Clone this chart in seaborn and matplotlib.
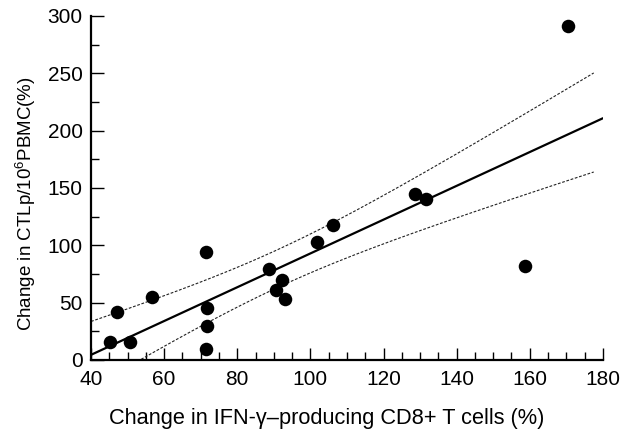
import numpy as np
import pandas as pd
import matplotlib
matplotlib.use("Agg")
import matplotlib.pyplot as plt
import seaborn as sns
from matplotlib.ticker import MultipleLocator

# Data
ifn_change = [45.2, 47.2, 50.7, 56.6, 71.5, 71.5, 71.7, 71.8, 88.8, 90.7,
              92.2, 93.1, 101.8, 106.2, 128.6, 131.6, 158.8, 170.5]
ctlp_change = [15.7, 41.6, 15.7, 55.2, 94.0, 9.6, 45.1, 30.0, 79.1, 61.3,
               70.1, 53.0, 102.8, 117.8, 144.6, 140.5, 82.0, 291.4]
x_ticks = [40, 60, 80, 100, 120, 140, 160, 180]
y_ticks = [0, 50, 100, 150, 200, 250, 300]

df = pd.DataFrame({"x": ifn_change, "y": ctlp_change})

sns.set_style("ticks")
plt.rcParams["font.family"] = ["Liberation Sans", "DejaVu Sans"]
plt.rcParams["mathtext.fontset"] = "custom"
plt.rcParams["mathtext.rm"] = "Liberation Sans"
plt.rcParams["mathtext.it"] = "Liberation Sans:italic"
plt.rcParams["text.color"] = "black"
plt.rcParams["axes.labelcolor"] = "black"
plt.rcParams["xtick.color"] = "black"
plt.rcParams["ytick.color"] = "black"

fig = plt.figure(figsize=(6.28, 4.32), dpi=100)
ax = fig.add_axes([0.145, 0.1667, 0.815, 0.7963])

# OLS fit and 90% confidence band of the mean
x = np.asarray(ifn_change)
y = np.asarray(ctlp_change)
n = len(x)
b1, b0 = np.polyfit(x, y, 1)
resid = y - (b0 + b1 * x)
s = np.sqrt(np.sum(resid ** 2) / (n - 2))
sxx = np.sum((x - x.mean()) ** 2)
t = 1.746
xl = np.linspace(40, 180, 200)
yl = b0 + b1 * xl
xc = np.linspace(40, 177.5, 200)
se = s * np.sqrt(1.0 / n + (xc - x.mean()) ** 2 / sxx)
yc = b0 + b1 * xc

ax.plot(xl, yl, color="black", lw=1.6, zorder=2)
ax.plot(xc, yc + t * se, color="#222222", lw=0.8, ls=(0, (2.5, 1.5)), zorder=2)
ax.plot(xc, yc - t * se, color="#222222", lw=0.8, ls=(0, (2.5, 1.5)), zorder=2)

sns.scatterplot(data=df, x="x", y="y", ax=ax, color="black", s=95,
                edgecolor="black", linewidth=0, zorder=3, clip_on=False)

ax.set_xlim(40, 180)
ax.set_ylim(0, 300)
ax.set_xticks(x_ticks)
ax.set_yticks(y_ticks)
ax.xaxis.set_minor_locator(MultipleLocator(5))
ax.yaxis.set_minor_locator(MultipleLocator(25))
ax.tick_params(which="major", direction="in", length=9, width=1.0,
               labelsize=15, color="black")
ax.tick_params(axis="x", which="major", pad=7)
ax.tick_params(axis="y", which="major", pad=6)
ax.tick_params(which="minor", direction="in", length=5.5, width=1.0,
               color="black")
sns.despine(ax=ax)
for sp in ("left", "bottom"):
    ax.spines[sp].set_linewidth(1.6)
    ax.spines[sp].set_color("black")

ax.set_xlabel("Change in IFN-γ–producing CD8+ T cells (%)", fontsize=15.7)
ax.set_ylabel("Change in CTLp/10$^{6}$PBMC(%)", fontsize=13.5)
ax.xaxis.set_label_coords(0.461, -0.14)
ax.yaxis.set_label_coords(-0.103, 0.455)

fig.savefig("out.png", dpi=100)
